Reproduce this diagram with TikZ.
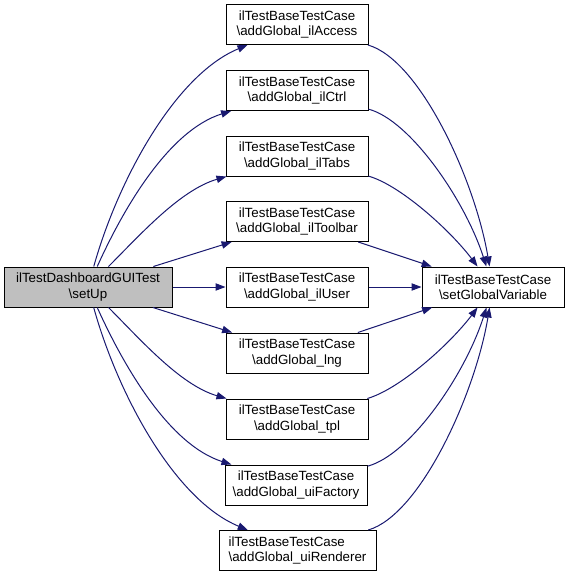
\documentclass[tikz,border=0pt]{standalone}
\usepackage{fontspec}
\setmainfont{Liberation Sans}
\usetikzlibrary{arrows.meta}
\definecolor{edgeblue}{HTML}{191970}
\definecolor{mainfill}{HTML}{BFBFBF}
\tikzset{
  fnbox/.style={draw=black, line width=0.75pt, fill=white, align=center,
    minimum width=106.5pt, minimum height=30pt, inner sep=2pt,
    font=\fontsize{10}{11.5}\selectfont},
  call/.style={draw=edgeblue, line width=0.75pt,
    -{Triangle[length=7.5pt,width=5.5pt]}}
}
\newcommand{\cls}{ilTestBaseTestCase}
\begin{document}
\begin{tikzpicture}[x=0.75pt,y=-0.75pt]
\useasboundingbox (0,0) rectangle (569,575);
% caller
\node[fnbox, fill=mainfill, minimum width=126pt] (setup) at (88,287) {ilTestDashboardGUITest\\\textbackslash setUp};
% callees
\node[fnbox] (access) at (297,24.5) {\cls\\\textbackslash addGlobal\_ilAccess};
\node[fnbox] (ctrl) at (297,90.5) {\cls\\\textbackslash addGlobal\_ilCtrl};
\node[fnbox] (tabs) at (297,156) {\cls\\\textbackslash addGlobal\_ilTabs};
\node[fnbox] (toolbar) at (297,221.5) {\cls\\\textbackslash addGlobal\_ilToolbar};
\node[fnbox] (user) at (297,287) {\cls\\\textbackslash addGlobal\_ilUser};
\node[fnbox] (lng) at (297,353) {\cls\\\textbackslash addGlobal\_lng};
\node[fnbox] (tpl) at (297,419) {\cls\\\textbackslash addGlobal\_tpl};
\node[fnbox] (factory) at (296,485) {\cls\\\textbackslash addGlobal\_uiFactory};
\node[fnbox, align=left, minimum width=117.75pt] (renderer) at (297.5,550.5) {\cls\\\textbackslash addGlobal\_uiRenderer};
% target
\node[fnbox] (setvar) at (493,287) {\cls\\\textbackslash setGlobalVariable};

\draw[call] (setup) .. controls (118,180) and (175,75) .. (access);
\draw[call] (setup) .. controls (125,205) and (170,130) .. (ctrl);
\draw[call] (setup) .. controls (140,235) and (180,190) .. (tabs);
\draw[call] (setup) -- (toolbar);
\draw[call] (setup) -- (user);
\draw[call] (setup) -- (lng);
\draw[call] (setup) .. controls (140,339) and (180,385) .. (tpl);
\draw[call] (setup) .. controls (125,369) and (170,445) .. (factory);
\draw[call] (setup) .. controls (118,395) and (175,500) .. (renderer);

\draw[call] (access) .. controls (420,60) and (475,180) .. (setvar);
\draw[call] (ctrl) .. controls (410,120) and (465,200) .. (setvar);
\draw[call] (tabs) .. controls (400,185) and (450,230) .. (setvar);
\draw[call] (toolbar) -- (setvar);
\draw[call] (user) -- (setvar);
\draw[call] (lng) -- (setvar);
\draw[call] (tpl) .. controls (400,389) and (450,344) .. (setvar);
\draw[call] (factory) .. controls (410,455) and (465,375) .. (setvar);
\draw[call] (renderer) .. controls (420,515) and (475,395) .. (setvar);
\end{tikzpicture}
\end{document}
